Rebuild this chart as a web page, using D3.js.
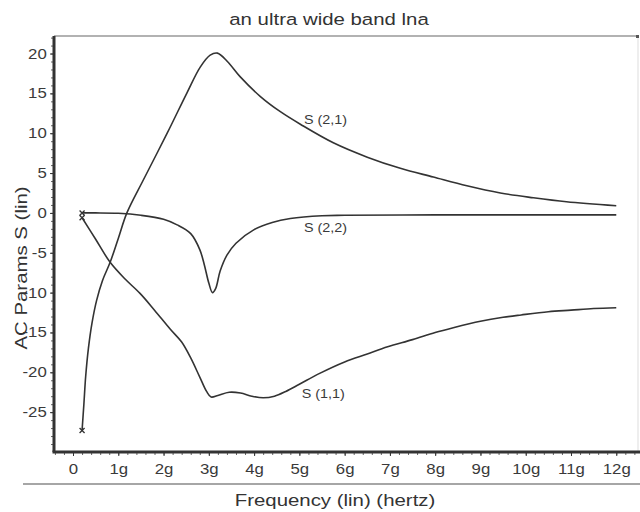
<!DOCTYPE html>
<html>
<head>
<meta charset="utf-8">
<script src="https://cdn.jsdelivr.net/npm/d3@7"></script>
<style>
  body { margin: 0; background: #fff; }
  text { font-family: "Liberation Sans", Arial, sans-serif; }
</style>
</head>
<body>
<svg id="chart" width="640" height="512"></svg>
<script>
const svg = d3.select("#chart")

// data, frequency in GHz
const freqS21 = [0.2, 0.24, 0.28, 0.34, 0.42, 0.52, 0.65, 0.82, 1.0, 1.19, 1.55, 2.08, 2.52, 2.81, 3.03, 3.19, 3.41, 3.69, 4.14, 4.58, 5.03, 5.75, 6.5, 7.23, 7.96, 8.7, 9.44, 10.17, 10.9, 12]
const s21 = [-27.3, -24, -20.5, -17, -13.8, -11, -8.5, -6.2, -3.2, 0, 4.1, 10, 15.1, 18.3, 19.8, 20.05, 19.0, 17.1, 14.6, 12.7, 11.1, 8.8, 7.0, 5.6, 4.5, 3.4, 2.5, 1.9, 1.4, 0.9]

const freqS22 = [0.2, 0.5, 1.0, 1.5, 2.0, 2.3, 2.6, 2.8, 2.9, 3.0, 3.08, 3.15, 3.25, 3.4, 3.6, 4.0, 4.4, 4.8, 5.5, 6, 8, 10, 12]
const s22 = [0, 0, -0.05, -0.3, -0.8, -1.5, -2.6, -4.6, -6.5, -8.8, -10, -9.5, -7.3, -5.3, -3.8, -2.1, -1.2, -0.7, -0.35, -0.3, -0.25, -0.25, -0.25]

const freqS11 = [0.2, 0.5, 0.82, 1.15, 1.48, 1.8, 2.15, 2.4, 2.6, 2.8, 2.95, 3.05, 3.2, 3.45, 3.7, 3.95, 4.2, 4.45, 4.7, 5.0, 5.46, 6.0, 6.5, 6.95, 7.5, 8.0, 8.4, 9.0, 9.5, 9.9, 10.5, 11, 11.5, 12]
const s11 = [-0.6, -3.3, -6.2, -8.3, -10.1, -12.2, -14.6, -16.2, -18.2, -20.6, -22.4, -23.1, -22.9, -22.5, -22.6, -23.0, -23.2, -23.0, -22.4, -21.5, -20.1, -18.7, -17.7, -16.8, -15.9, -15.0, -14.4, -13.6, -13.1, -12.8, -12.4, -12.2, -12.0, -11.9]

const seriesNames = ["S (2,1)", "S (2,2)", "S (1,1)"]
const labelAt = [5.1, 5.1, 5.05]   // label start (GHz)
const labelVal = [11.2, -2.4, -23.2]

const xTicks = [0, 1, 2, 3, 4, 5, 6, 7, 8, 9, 10, 11, 12]
const yTicks = [20, 15, 10, 5, 0, -5, -10, -15, -20, -25]

const plotL = 54, plotR = 638, plotT = 36, plotB = 452
const stretch = 1.2   // text in the picture is wider than tall

const x = d3.scaleLinear().domain([-0.42, 12.48]).range([plotL, plotR])
const y = d3.scaleLinear().domain([-30, 22.2]).range([plotB, plotT])

// title
svg.append("text")
  .attr("transform", `translate(329,25) scale(${stretch},1)`)
  .attr("text-anchor", "middle")
  .style("font-size", "17px")
  .style("fill", "#333")
  .text("an ultra wide band lna")

// frame: top and right thin grey
svg.append("line").attr("x1", plotL).attr("x2", plotR).attr("y1", plotT).attr("y2", plotT)
  .style("stroke", "#999").style("stroke-width", 1.5)
svg.append("line").attr("x1", plotR).attr("x2", plotR).attr("y1", plotT).attr("y2", plotB)
  .style("stroke", "#ddd").style("stroke-width", 1)
svg.append("rect").attr("x", plotR - 2).attr("y", plotT - 1).attr("width", 3).attr("height", 3).style("fill", "#555")

// minor ticks
const minorY = d3.range(-29, 23, 1)
svg.append("g")
  .attr("transform", `translate(${plotL},0)`)
  .call(d3.axisLeft(y).tickValues(minorY).tickSize(3).tickFormat(""))
  .call(g => g.select(".domain").remove())
  .selectAll("line").style("stroke", "#666")

const minorX = d3.range(-0.4, 12.5, 0.2)
svg.append("g")
  .attr("transform", `translate(0,${plotB})`)
  .call(d3.axisBottom(x).tickValues(minorX).tickSize(3).tickFormat(""))
  .call(g => g.select(".domain").remove())
  .selectAll("line").style("stroke", "#666")

// major axes
const yAxis = svg.append("g")
  .attr("transform", `translate(${plotL},0)`)
  .attr("font-family", null)
  .call(d3.axisLeft(y).tickValues(yTicks).tickSize(4).tickPadding(2).tickSizeOuter(0).tickFormat(d => d < 0 ? "-" + Math.abs(d) : d))
yAxis.select(".domain").attr("d", `M0,${plotT}V${plotB}`).style("stroke", "#333").style("stroke-width", 3)
yAxis.selectAll(".tick line").style("stroke", "#333")
yAxis.selectAll(".tick text")
  .attr("transform", `scale(${stretch},1)`)
  .style("font-size", "14px").style("fill", "#3a3a3a")

const xAxis = svg.append("g")
  .attr("transform", `translate(0,${plotB})`)
  .attr("font-family", null)
  .call(d3.axisBottom(x).tickValues(xTicks).tickSize(4).tickPadding(8).tickSizeOuter(0).tickFormat(d => d === 0 ? "0" : d + "g"))
xAxis.select(".domain").attr("d", `M${plotL - 1.5},0H${640}`).style("stroke", "#333").style("stroke-width", 3)
xAxis.selectAll(".tick line").style("stroke", "#333")
xAxis.selectAll(".tick text")
  .attr("transform", `scale(${stretch},1)`)
  .style("font-size", "14px").style("fill", "#3a3a3a")

// separator line under x axis
svg.append("line").attr("x1", 23).attr("x2", 640).attr("y1", 484).attr("y2", 484)
  .style("stroke", "#888").style("stroke-width", 1.5)

// axis titles
svg.append("text")
  .attr("transform", `translate(335,506) scale(${stretch},1)`)
  .attr("text-anchor", "middle")
  .style("font-size", "17px").style("fill", "#333")
  .text("Frequency (lin) (hertz)")

svg.append("text")
  .attr("transform", `translate(27,268) rotate(-90) scale(${stretch},1)`)
  .attr("text-anchor", "middle")
  .style("font-size", "17px").style("fill", "#333")
  .text("AC Params S (lin)")

// curves
const line = d3.line()
  .x(d => x(d[0]))
  .y(d => y(d[1]))
  .curve(d3.curveCatmullRom.alpha(0.5))

const series = [
  d3.zip(freqS21, s21),
  d3.zip(freqS22, s22),
  d3.zip(freqS11, s11)
]

svg.append("g").selectAll("path")
  .data(series)
  .join("path")
  .attr("d", line)
  .style("fill", "none")
  .style("stroke", "#333")
  .style("stroke-width", 1.6)

// start markers
svg.append("g").selectAll("path")
  .data(series.map(s => s[0]))
  .join("path")
  .attr("transform", d => `translate(${x(d[0])},${y(d[1])})`)
  .attr("d", "M-2.5,-2.5L2.5,2.5M-2.5,2.5L2.5,-2.5")
  .style("stroke", "#333")
  .style("stroke-width", 1.3)

// series labels
svg.append("g").selectAll("text")
  .data(seriesNames)
  .join("text")
  .attr("transform", (d, i) => `translate(${x(labelAt[i])},${y(labelVal[i])}) scale(${stretch},1)`)
  .style("font-size", "12px")
  .style("fill", "#3a3a3a")
  .text(d => d)
</script>
</body>
</html>
